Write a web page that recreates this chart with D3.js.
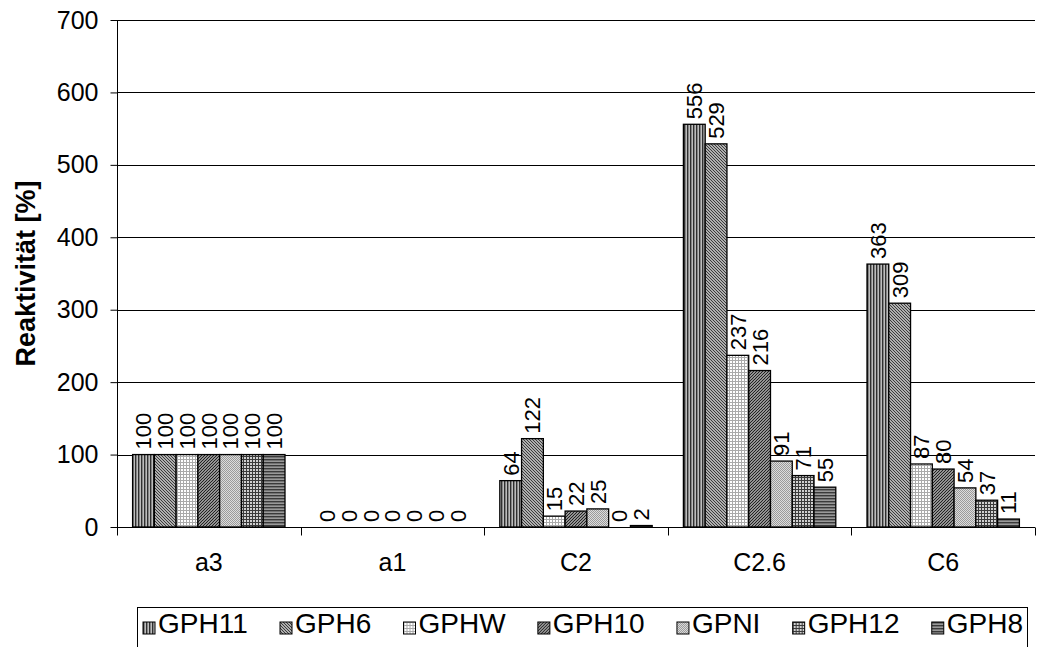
<!DOCTYPE html>
<html>
<head>
<meta charset="utf-8">
<script src="https://cdn.jsdelivr.net/npm/d3@7"></script>
<style>
  body { margin: 0; background: #fff; }
  svg { display: block; font-family: Arial, "Liberation Sans", sans-serif; }
</style>
</head>
<body>
<svg id="chart" width="1047" height="647"></svg>
<script>
const categories = ["a3", "a1", "C2", "C2.6", "C6"];
const seriesNames = ["GPH11", "GPH6", "GPHW", "GPH10", "GPNI", "GPH12", "GPH8"];
const GPH11 = [100, 0, 64, 556, 363];
const GPH6  = [100, 0, 122, 529, 309];
const GPHW  = [100, 0, 15, 237, 87];
const GPH10 = [100, 0, 22, 216, 80];
const GPNI  = [100, 0, 25, 91, 54];
const GPH12 = [100, 0, 0, 71, 37];
const GPH8  = [100, 0, 2, 55, 11];
const seriesValues = [GPH11, GPH6, GPHW, GPH10, GPNI, GPH12, GPH8];
const yTicks = [0, 100, 200, 300, 400, 500, 600, 700];

const svg = d3.select("#chart");
const margin = { left: 117, right: 12, top: 20, bottom: 120 };
const W = 1047, H = 647;
const x0 = margin.left, x1 = W - margin.right;
const yTop = margin.top, yBot = 527;

// Patterns
const defs = svg.append("defs");
function pat(id, w, h, draw) {
  const p = defs.append("pattern").attr("id", id).attr("patternUnits", "userSpaceOnUse")
    .attr("width", w).attr("height", h);
  draw(p);
}
// GPH11 vertical stripes
pat("p0", 3, 3, p => {
  p.append("rect").attr("width", 3).attr("height", 3).attr("fill", "#bdbdbd");
  p.append("rect").attr("width", 1.4).attr("height", 3).attr("fill", "#303030");
});
// GPH6 backward diagonal dense
pat("p1", 3, 3, p => {
  p.append("rect").attr("width", 3).attr("height", 3).attr("fill", "#e0e0e0");
  p.append("path").attr("d", "M-1,-1 L4,4 M-1,2 L1,4 M2,-1 L4,1").attr("stroke", "#333").attr("stroke-width", 1.1);
});
// GPHW light grid
pat("p2", 3, 3, p => {
  p.append("rect").attr("width", 3).attr("height", 3).attr("fill", "#fff");
  p.append("path").attr("d", "M0.5,0 V3 M0,0.5 H3").attr("stroke", "#aaa").attr("stroke-width", 1);
});
// GPH10 forward diagonal
pat("p3", 3, 3, p => {
  p.append("rect").attr("width", 3).attr("height", 3).attr("fill", "#eee");
  p.append("path").attr("d", "M-1,4 L4,-1 M-1,1 L1,-1 M2,4 L4,2").attr("stroke", "#222").attr("stroke-width", 1.3);
});
// GPNI light dotted
pat("p4", 2, 2, p => {
  p.append("rect").attr("width", 2).attr("height", 2).attr("fill", "#dcdcdc");
  p.append("rect").attr("width", 1).attr("height", 1).attr("fill", "#9a9a9a");
  p.append("rect").attr("x", 1).attr("y", 1).attr("width", 1).attr("height", 1).attr("fill", "#9a9a9a");
});
// GPH12 dark grid
pat("p5", 3, 3, p => {
  p.append("rect").attr("width", 3).attr("height", 3).attr("fill", "#d0d0d0");
  p.append("path").attr("d", "M0.5,0 V3 M0,0.5 H3").attr("stroke", "#3a3a3a").attr("stroke-width", 1);
});
// GPH8 horizontal stripes
pat("p6", 3, 3, p => {
  p.append("rect").attr("width", 3).attr("height", 3).attr("fill", "#999");
  p.append("rect").attr("width", 3).attr("height", 1.4).attr("fill", "#3a3a3a");
});

const y = d3.scaleLinear().domain([0, 700]).range([yBot, yTop]);
const xCat = d3.scaleBand().domain(categories).range([x0, x1]).padding(0);
const bw = xCat.bandwidth();
const gap = bw * 0.085;
const xSer = d3.scaleBand().domain(seriesNames).range([gap, bw - gap]).padding(0);

// Gridlines
svg.append("g").selectAll("line").data(yTicks.filter(d => d > 0)).join("line")
  .attr("x1", x0).attr("x2", x1)
  .attr("y1", d => Math.round(y(d)) + 0.5).attr("y2", d => Math.round(y(d)) + 0.5)
  .attr("stroke", "#000").attr("stroke-width", 1);

// Y axis
const yAxis = d3.axisLeft(y).tickValues(yTicks).tickSize(7).tickPadding(12).tickFormat(d3.format("d"));
const gy = svg.append("g").attr("transform", `translate(${x0 + 0.5},0)`).call(yAxis);
gy.select(".domain").attr("d", `M0,${yTop} V${yBot}`).attr("stroke", "#000");
gy.selectAll(".tick line").attr("stroke", "#000");
gy.selectAll(".tick text").attr("font-size", 25).attr("fill", "#000").attr("font-family", "Arial, 'Liberation Sans', sans-serif");

// Bars
const groups = svg.append("g").selectAll("g").data(seriesNames).join("g")
  .attr("fill", (d, i) => `url(#p${i})`);
groups.each(function(name, si) {
  const vals = seriesValues[si];
  const g = d3.select(this);
  g.selectAll("rect").data(vals.map((v, ci) => ({ v, c: categories[ci] })).filter(d => d.v > 0)).join("rect")
    .attr("x", d => xCat(d.c) + xSer(name))
    .attr("width", xSer.bandwidth())
    .attr("y", d => y(d.v))
    .attr("height", d => y(0) - y(d.v))
    .attr("stroke", "#000").attr("stroke-width", 1.3);
});

// Data labels
const labels = svg.append("g");
seriesNames.forEach((name, si) => {
  seriesValues[si].forEach((v, ci) => {
    const cx = xCat(categories[ci]) + xSer(name) + xSer.bandwidth() / 2;
    const ty = y(v) - 5;
    labels.append("text")
      .attr("transform", `translate(${cx},${ty}) rotate(-90)`)
      .attr("dy", "0.36em")
      .attr("font-size", 22)
      .attr("text-anchor", "start")
      .attr("fill", "#000")
      .text(v);
  });
});

// X axis
const xAxis = d3.axisBottom(xCat).tickSize(0).tickPadding(26);
const gx = svg.append("g").attr("transform", `translate(0,${yBot + 0.5})`).call(xAxis);
gx.select(".domain").attr("d", `M${x0},0 H${x1}`).attr("stroke", "#000");
gx.selectAll(".tick text").attr("font-size", 25).attr("fill", "#000").attr("font-family", "Arial, 'Liberation Sans', sans-serif");
// category separator ticks
const bounds = d3.range(categories.length + 1).map(i => x0 + i * bw);
gx.append("g").selectAll("line").data(bounds).join("line")
  .attr("x1", d => Math.round(d) + 0.5).attr("x2", d => Math.round(d) + 0.5)
  .attr("y1", 0).attr("y2", 8).attr("stroke", "#000");

// Axis title
svg.append("text")
  .attr("transform", `translate(35,${(yTop + yBot) / 2}) rotate(-90)`)
  .attr("text-anchor", "middle")
  .attr("font-size", 27).attr("font-weight", "bold").attr("fill", "#000")
  .text("Reaktivität [%]");

// Legend
const legX0 = 137, legX1 = 1027, legY = 607;
svg.append("rect").attr("x", legX0 + 0.5).attr("y", legY + 0.5).attr("width", legX1 - legX0).attr("height", 60)
  .attr("fill", "#fff").attr("stroke", "#000");
const leg = svg.append("g");
const fs = 28;
const items = seriesNames.map((n, i) => {
  const g = leg.append("g");
  g.append("rect").attr("width", 12).attr("height", 12).attr("fill", `url(#p${i})`).attr("stroke", "#000").attr("stroke-width", 1);
  const t = g.append("text").attr("x", 15).attr("y", 11).attr("font-size", fs).attr("fill", "#000").text(n);
  return { g, w: 15 + t.node().getComputedTextLength() };
});
const totalW = d3.sum(items, d => d.w);
const innerL = legX0 + 6, innerR = legX1 - 4;
const lgap = (innerR - innerL - totalW) / (items.length - 1);
let cx = innerL;
items.forEach(it => {
  it.g.attr("transform", `translate(${cx},${622})`);
  cx += it.w + lgap;
});
</script>
</body>
</html>
